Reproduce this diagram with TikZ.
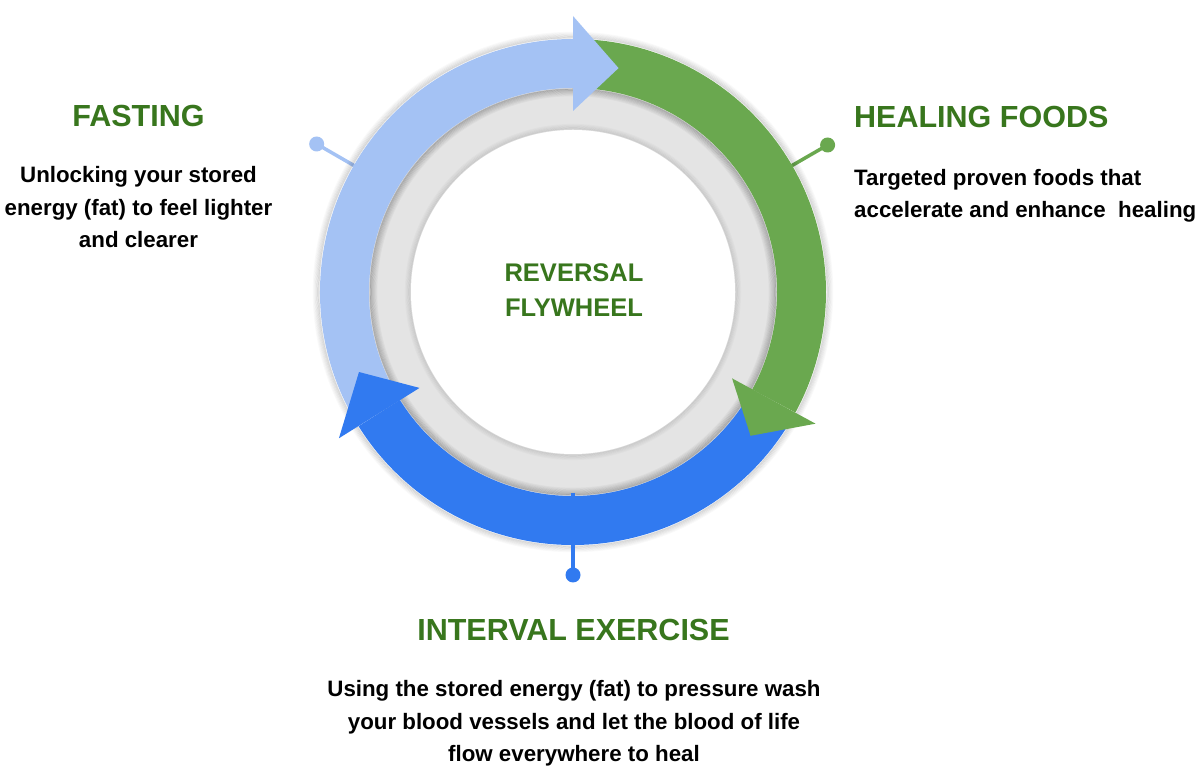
\documentclass[tikz,border=0pt]{standalone}
\usepackage{fontspec}
\setmainfont{Liberation Sans}
\usetikzlibrary{calc}
\definecolor{lblue}{HTML}{A4C2F4}
\definecolor{dgreen}{HTML}{6AA84F}
\definecolor{dblue}{HTML}{317AF0}
\definecolor{ringgray}{HTML}{E4E4E4}
\definecolor{titlegreen}{HTML}{38761D}
\begin{document}
\begin{tikzpicture}[x=1pt,y=1pt,
  band/.style={line width=49pt},
  pinline/.style={line width=3.5pt},
  pindot/.style={circle,inner sep=0pt,minimum size=15pt},
  title/.style={text=titlegreen,font=\fontsize{30.5}{36}\selectfont\bfseries,inner sep=0pt},
  body/.style={text=black,font=\fontsize{22.3}{32.5}\selectfont\bfseries,inner sep=0pt},
  center/.style={text=titlegreen,font=\fontsize{25.5}{35}\selectfont\bfseries,inner sep=0pt,align=center}]
\useasboundingbox (0,0) rectangle (1200,778);
\fill[white] (0,0) rectangle (1200,778);
\coordinate (C) at (573,486);
% pins (behind the ring)
\node[pindot,fill=lblue] (dotF) at ($(C)+(150:296)$) {};
\node[pindot,fill=dgreen] (dotH) at ($(C)+(30:294)$) {};
\node[pindot,fill=dblue] (dotI) at ($(C)+(270:283)$) {};
\coordinate (pF) at ($(C)+(150:210)$);
\coordinate (pH) at ($(C)+(30:210)$);
\coordinate (pI) at ($(C)+(270:201)$);
\draw[pinline,lblue] (pF) -- (dotF.center);
\draw[pinline,dgreen] (pH) -- (dotH.center);
\begin{scope}[shift={(C)}]
  % outer soft shadow of the ring
  \foreach \i [evaluate=\i as \op using 0.022*(7-\i)] in {1,...,6}
    \draw[black,opacity=\op,line width=1.2pt] (0,0) circle[radius=253+\i*1.1];
  % gray disc
  \fill[ringgray] (0,0) circle[radius=230];
  % inner shadow cast by the bands
  \foreach \i [evaluate=\i as \op using 0.03*(8-\i)] in {1,...,7}
    \draw[black,opacity=\op,line width=1.2pt] (0,0) circle[radius=204-\i*1.1];
  % shadow around white disc
  \foreach \i [evaluate=\i as \op using 0.018*(6-\i)] in {1,...,5}
    \draw[black,opacity=\op,line width=1.2pt] (0,0) circle[radius=162+\i*1.1];
  \fill[white] (0,0) circle[radius=162];
  % bands
  \draw[band,lblue] (211.5:228.5) arc[start angle=211.5,end angle=90,radius=228.5];
  \draw[band,dgreen] (89.5:228.5) arc[start angle=89.5,end angle=-28.5,radius=228.5];
  \draw[band,dblue] (-29.5:228.5) arc[start angle=-29.5,end angle=-148,radius=228.5];
  % heads
  \fill[lblue] (90:181) -- (78.5:228.5) -- (90:276) -- cycle;
  \fill[dgreen] (-28.5:181) -- (-39:228.5) -- (-28.5:276) -- cycle;
  \fill[dblue] (212:181) -- (200.5:228.5) -- (212:276) -- cycle;
\end{scope}
\draw[pinline,dblue] (pI) -- (dotI.center);
% texts
\node[center,anchor=base] (mid) at (574,461) {REVERSAL\\FLYWHEEL};
\node[title,anchor=base] (tF) at (138.5,651.5) {FASTING};
\node[body,anchor=base,align=center] (bF) at (138.5,530) {Unlocking your stored\\energy (fat) to feel lighter\\and clearer};
\node[title,anchor=base west] (tH) at (854,650) {HEALING FOODS};
\node[body,anchor=base west,align=left] (bH) at (854,560) {Targeted proven foods that\\accelerate and enhance\ \ healing};
\node[title,anchor=base] (tI) at (573.5,137) {INTERVAL EXERCISE};
\node[body,anchor=base,align=center] (bI) at (574,16) {Using the stored energy (fat) to pressure wash\\your blood vessels and let the blood of life\\flow everywhere to heal};
\end{tikzpicture}
\end{document}
